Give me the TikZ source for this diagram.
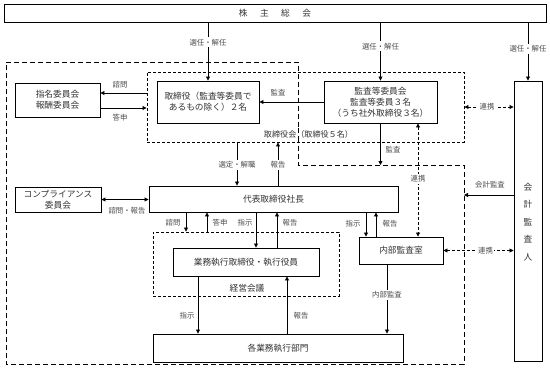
\documentclass[tikz,border=0pt]{standalone}
\usepackage{fontspec}
\setmainfont{Noto Sans CJK JP}
\usetikzlibrary{arrows.meta}
\begin{document}
\begin{tikzpicture}[x=1pt,y=-1pt,
  box/.style={draw, line width=0.9pt, inner sep=0pt, align=center,
    font=\fontsize{8.7}{11}\selectfont, text=black!80},
  sdbox/.style={draw, line width=0.9pt, dash pattern=on 3pt off 2pt, inner sep=0pt},
  ldash/.style={draw, line width=0.9pt, dash pattern=on 5pt off 3pt},
  lab/.style={font=\fontsize{7.4}{9}\selectfont, text=black!70, inner sep=1pt},
  onl/.style={lab, fill=white, inner sep=1.5pt},
  tip/.tip={Triangle[length=4pt,width=4pt]},
  arr/.style={line width=0.8pt, -tip},
  darr/.style={line width=0.8pt, tip-tip, dash pattern=on 3pt off 2pt},
  dbl/.style={line width=0.8pt, tip-tip}
]
\useasboundingbox (0,0) rectangle (550,368);

% column / row helper coordinates
\coordinate (c186) at (186,0);
\coordinate (c207) at (207,0);
\coordinate (c237) at (237,0);
\coordinate (c256) at (256,0);
\coordinate (c277) at (277,0);
\coordinate (c278) at (278,0);
\coordinate (c366) at (366,0);
\coordinate (c376) at (376,0);
\coordinate (c198) at (198,0);
\coordinate (c287) at (287,0);
\coordinate (c387) at (387,0);
\coordinate (c418) at (418,0);
\coordinate (r93) at (0,93);
\coordinate (r108) at (0,108);
\coordinate (oh) at (298,165);
\coordinate (ob) at (464,195);

% outer long-dashed region
\path[ldash] (6,62) -- (298,62) -- (298,165) -- (464,165) -- (464,364) -- (6,364) -- cycle;

% boxes
\node[box, minimum width=542pt, minimum height=18pt] (kabu) at (275,13)
  {株\hspace{12.5pt}主\hspace{12.5pt}総\hspace{12.5pt}会};
\node[sdbox, minimum width=317pt, minimum height=70pt] (torikai) at (305.5,107) {};
\node[box, minimum width=85pt, minimum height=34pt] (shimei) at (57.5,100) {指名委員会\\報酬委員会};
\node[box, minimum width=102pt, minimum height=42pt, fill=white] (tori) at (208,102) {取締役（監査等委員で\\あるもの除く）２名};
\node[box, minimum width=113pt, minimum height=42pt, fill=white] (kansa) at (380.5,102) {監査等委員会\\監査等委員３名\\（うち社外取締役３名）};
\node[box, minimum width=28pt, minimum height=280pt] (kaikei) at (528,221) {};
\node[font=\fontsize{8.7}{17.5}\selectfont, text=black!80, align=center] (kaikeit) at (528,222) {会\\計\\監\\査\\人};
\node[box, minimum width=86pt, minimum height=25pt] (comp) at (58,199.5) {コンプライアンス\\委員会};
\node[box, minimum width=249pt, minimum height=26pt] (shacho) at (273.5,199) {代表取締役社長};
\node[sdbox, minimum width=186pt, minimum height=64pt] (keiei) at (246,264) {};
\node[box, minimum width=146pt, minimum height=28pt, fill=white] (gyomu) at (246,262) {業務執行取締役・執行役員};
\node[box, minimum width=84pt, minimum height=27pt] (naibu) at (401,250.5) {内部監査室};
\node[box, minimum width=250pt, minimum height=28pt] (bumon) at (278,348) {各業務執行部門};

% box captions
\node[font=\fontsize{8.1}{10}\selectfont, text=black!80, fill=white, inner sep=0.5pt] (tkcap) at (308.5,134) {取締役会（取締役５名）};
\draw[ldash] (298,128) -- (298,141);
\node[font=\fontsize{8.7}{10}\selectfont, text=black!80] (kkcap) at (247,288) {経営会議};

% shareholder arrows
\draw[arr] (kabu.south -| tori.north) -- node[onl, pos=0.34] {選任・解任} (tori.north);
\draw[arr] (kabu.south -| kansa.north) -- node[onl, pos=0.41] {選任・解任} (kansa.north);
\draw[arr] (kabu.south -| kaikei.north) -- node[onl, pos=0.46] {選任・解任} (kaikei.north);

% nomination committee
\draw[arr] (torikai.west |- r93) -- (shimei.east |- r93);
\draw[arr] (shimei.east |- r108) -- (torikai.west |- r108);
\node[lab] at (120,85) {諮問};
\node[lab] at (120,118) {答申};

% audit
\draw[arr] (kansa.west) -- (tori.east |- kansa.west);
\node[lab] at (278,93) {監査};
\draw[arr] (kansa.south) -- (kansa.south |- oh);
\node[lab] at (393,150) {監査};

% liaison
\draw[darr] (torikai.east) -- node[onl, pos=0.46] {連携} (kaikei.west |- torikai.east);
\draw[darr] (kansa.south -| c418) -- node[onl, pos=0.49] {連携} (naibu.north -| c418);
\draw[darr] (naibu.east) -- node[onl, pos=0.6] {連携} (kaikei.west |- naibu.east);

% accounting audit
\draw[arr] (kaikei.west |- ob) -- (ob);
\node[lab] at (490,185) {会計監査};

% board - president
\draw[arr] (torikai.south -| c237) -- node[onl, pos=0.52] {選定・解職} (shacho.north -| c237);
\draw[arr] (shacho.north -| c278) -- node[onl, pos=0.48] {報告} (torikai.south -| c278);

% compliance
\draw[dbl] (comp.east) -- (shacho.west |- comp.east);
\node[lab] at (127,211) {諮問・報告};

% president - management meeting
\draw[arr] (shacho.south -| c186) -- (keiei.north -| c186);
\node[lab] at (173,223) {諮問};
\draw[arr] (keiei.north -| c207) -- (shacho.south -| c207);
\node[lab] at (220,223) {答申};
\draw[arr] (shacho.south -| c256) -- (gyomu.north -| c256);
\node[lab] at (245,223) {指示};
\draw[arr] (gyomu.north -| c277) -- (shacho.south -| c277);
\node[lab] at (290,223) {報告};

% president - internal audit
\draw[arr] (shacho.south -| c366) -- (naibu.north -| c366);
\node[lab] at (353,224) {指示};
\draw[arr] (naibu.north -| c376) -- (shacho.south -| c376);
\node[lab] at (390,224) {報告};

% execution - departments
\draw[arr] (gyomu.south -| c198) -- (bumon.north -| c198);
\node[lab] at (187,316) {指示};
\draw[arr] (bumon.north -| c287) -- (gyomu.south -| c287);
\node[lab] at (301,316) {報告};
\draw[arr] (naibu.south -| c387) -- node[onl, pos=0.44] {内部監査} (bumon.north -| c387);
\end{tikzpicture}
\end{document}
